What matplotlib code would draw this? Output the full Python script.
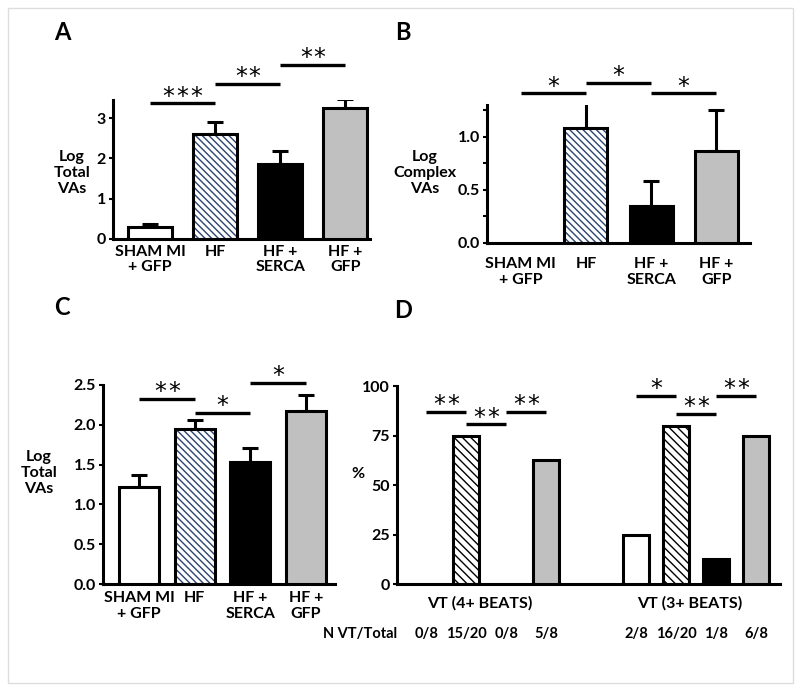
import matplotlib
matplotlib.use('Agg')
import numpy as np
import matplotlib.pyplot as plt
from matplotlib.patches import Rectangle

FS = 11.5
matplotlib.rc('font', family='Lato', weight='bold', size=FS)
matplotlib.rc('hatch', linewidth=1.0)

# === data ===
groups = ['SHAM MI\n+ GFP', 'HF', 'HF +\nSERCA', 'HF +\nGFP']

total_a = [0.30, 2.60, 1.85, 3.25]
total_a_err = [0.07, 0.30, 0.33, 0.23]

complex_b = [0.0, 1.08, 0.35, 0.87]
complex_b_err = [0.0, 0.25, 0.23, 0.38]

total_c = [1.22, 1.95, 1.53, 2.17]
total_c_err = [0.15, 0.11, 0.18, 0.20]

vt4_pct = [0, 75, 0, 62.5]
vt3_pct = [25, 80, 12.5, 75]
vt4_n = ['0/8', '15/20', '0/8', '5/8']
vt3_n = ['2/8', '16/20', '1/8', '6/8']

# significance brackets: (from x, to x, height, number of stars)
sig_a = [(0, 1, 3.375, 3), (1, 2, 3.85, 2), (2, 3, 4.33, 2)]
sig_b = [(0, 1, 1.41, 1), (1, 2, 1.51, 1), (2, 3, 1.41, 1)]
sig_c = [(0, 1, 2.33, 2), (1, 2, 2.15, 1), (2, 3, 2.53, 1)]
sig_d = [(0, 1, 87, 2), (1, 2, 80.6, 2), (2, 3, 87, 2),
         (5.25, 6.25, 95, 1), (6.25, 7.25, 86, 2), (7.25, 8.25, 95, 2)]

fills = ['white', 'white', 'black', '#c0c0c0']
HATCH_BLUE = '#2b4470'

W, H = 800, 693
fig = plt.figure(figsize=(W / 100, H / 100), dpi=100)
fig.patch.set_facecolor('white')


def px_axes(left, right, top, bottom):
    return fig.add_axes([left / W, 1 - bottom / H, (right - left) / W, (bottom - top) / H])


def style(ax, xpad=3):
    for s in ['top', 'right']:
        ax.spines[s].set_visible(False)
    for s in ['left', 'bottom']:
        ax.spines[s].set_linewidth(2.2)
    ax.tick_params(axis='y', width=1.5, length=3, labelsize=FS, pad=2)
    ax.tick_params(axis='x', length=0, labelsize=FS, pad=xpad)
    ax.patch.set_alpha(0)
    for t in ax.get_xticklabels():
        t.set_linespacing(1.15)


def draw_bars(ax, x, vals, errs, width, hatch_col, hatch):
    for i, (xi, v) in enumerate(zip(x, vals)):
        if v == 0:
            continue
        if i == 1:
            ax.bar(xi, v, width, color='white', edgecolor=hatch_col, hatch=hatch,
                   linewidth=0, zorder=2)
            ax.bar(xi, v, width, color='none', edgecolor='black', linewidth=2.2, zorder=3)
        else:
            ax.bar(xi, v, width, color=fills[i], edgecolor='black', linewidth=2.2, zorder=3)
        if errs is not None and errs[i] > 0:
            ax.errorbar(xi, v, yerr=[[0], [errs[i]]], fmt='none', ecolor='black',
                        elinewidth=2.2, capsize=6, capthick=2.2, zorder=1)


def draw_sig(ax, sigs, fs=17):
    for xi, xj, h, n in sigs:
        ax.plot([xi, xj], [h, h], color='black', lw=2.4, clip_on=False, solid_capstyle='butt')
        for k in range(n):
            dx = (k - (n - 1) / 2) * 10.0
            ax.annotate('*', xy=((xi + xj) / 2, h), xytext=(dx, -4), textcoords='offset points',
                        ha='center', va='bottom', fontsize=fs, family='DejaVu Sans',
                        fontweight='normal', annotation_clip=False)


x4 = np.arange(4)

# === Panel A ===
ax = px_axes(113, 370, 100, 239)
draw_bars(ax, x4, total_a, total_a_err, 0.68, HATCH_BLUE, '\\\\\\\\\\')
ax.set_xlim(-0.57, 3.38)
ax.set_ylim(0, 3.45)
ax.set_yticks([0, 1, 2, 3])
ax.set_xticks(x4)
ax.set_xticklabels(groups)
style(ax, xpad=4)
draw_sig(ax, sig_a)

# === Panel B ===
ax = px_axes(487, 750, 105, 243)
draw_bars(ax, x4, complex_b, complex_b_err, 0.66, HATCH_BLUE, '\\\\\\\\\\')
ax.set_xlim(-0.52, 3.52)
ax.set_ylim(0, 1.3)
ax.set_yticks([0, 0.5, 1.0])
ax.set_yticklabels(['0.0', '0.5', '1.0'])
ax.set_yticks([0.25, 0.75, 1.25], minor=True)
ax.tick_params(axis='y', which='minor', width=1.5, length=3)
ax.set_xticks(x4)
ax.set_xticklabels(groups)
style(ax, xpad=10)
draw_sig(ax, sig_b)

# === Panel C ===
ax = px_axes(103, 335, 385, 584)
draw_bars(ax, x4, total_c, total_c_err, 0.72, HATCH_BLUE, '\\\\\\\\\\')
ax.set_xlim(-0.65, 3.52)
ax.set_ylim(0, 2.5)
ax.set_yticks([0, 0.5, 1.0, 1.5, 2.0, 2.5])
ax.set_yticklabels(['0.0', '0.5', '1.0', '1.5', '2.0', '2.5'])
ax.set_xticks(x4)
ax.set_xticklabels(groups)
style(ax, xpad=5)
draw_sig(ax, sig_c)

# === Panel D ===
ax = px_axes(397, 780, 386, 584)
xd1 = np.arange(4)
xd2 = np.arange(4) + 5.25
for xs, vals in [(xd1, vt4_pct), (xd2, vt3_pct)]:
    for i, (xi, v) in enumerate(zip(xs, vals)):
        if v == 0:
            continue
        if i == 1:
            ax.bar(xi, v, 0.65, color='white', edgecolor='black', hatch='\\\\\\\\',
                   linewidth=0, zorder=2)
            ax.bar(xi, v, 0.65, color='none', edgecolor='black', linewidth=2.2, zorder=3)
        else:
            ax.bar(xi, v, 0.65, color=fills[i], edgecolor='black', linewidth=2.2, zorder=3)
ax.set_xlim(-0.73, 8.85)
ax.set_ylim(0, 100)
ax.set_yticks([0, 25, 50, 75, 100])
ax.set_xticks([])
style(ax)
draw_sig(ax, sig_d)
ax.text(xd1.mean() - 0.15, -10, 'VT (4+ BEATS)', ha='center', va='center', fontsize=FS)
ax.text(xd2.mean() - 0.15, -10, 'VT (3+ BEATS)', ha='center', va='center', fontsize=FS)
for xs, labels in [(xd1, vt4_n), (xd2, vt3_n)]:
    for xi, lab in zip(xs, labels):
        ax.text(xi, -25.5, lab, ha='center', va='center', fontsize=10.5)

# labels
fig.text(360 / W, 1 - 634 / H, 'N VT/Total', ha='center', va='center', fontsize=10.5)
for txt, x, y in [('Log\nTotal\nVAs', 72, 173), ('Log\nComplex\nVAs', 425, 173),
                  ('Log\nTotal\nVAs', 39, 473)]:
    fig.text(x / W, 1 - y / H, txt, ha='center', va='center', fontsize=FS,
             linespacing=1.2)
fig.text(358 / W, 1 - 474 / H, '%', ha='center', va='center', fontsize=FS)

for lab, x, y in [('A', 62, 33), ('B', 403, 33), ('C', 62, 307), ('D', 403, 310)]:
    fig.text(x / W, 1 - y / H, lab, ha='center', va='center', fontsize=17, fontweight='bold')

# light frame
fig.patches.append(Rectangle((8 / W, 1 - 683 / H), 785 / W, 675 / H, transform=fig.transFigure,
                             fill=False, edgecolor='#dddddd', linewidth=1))

plt.savefig('out.png', dpi=100)
plt.close()
